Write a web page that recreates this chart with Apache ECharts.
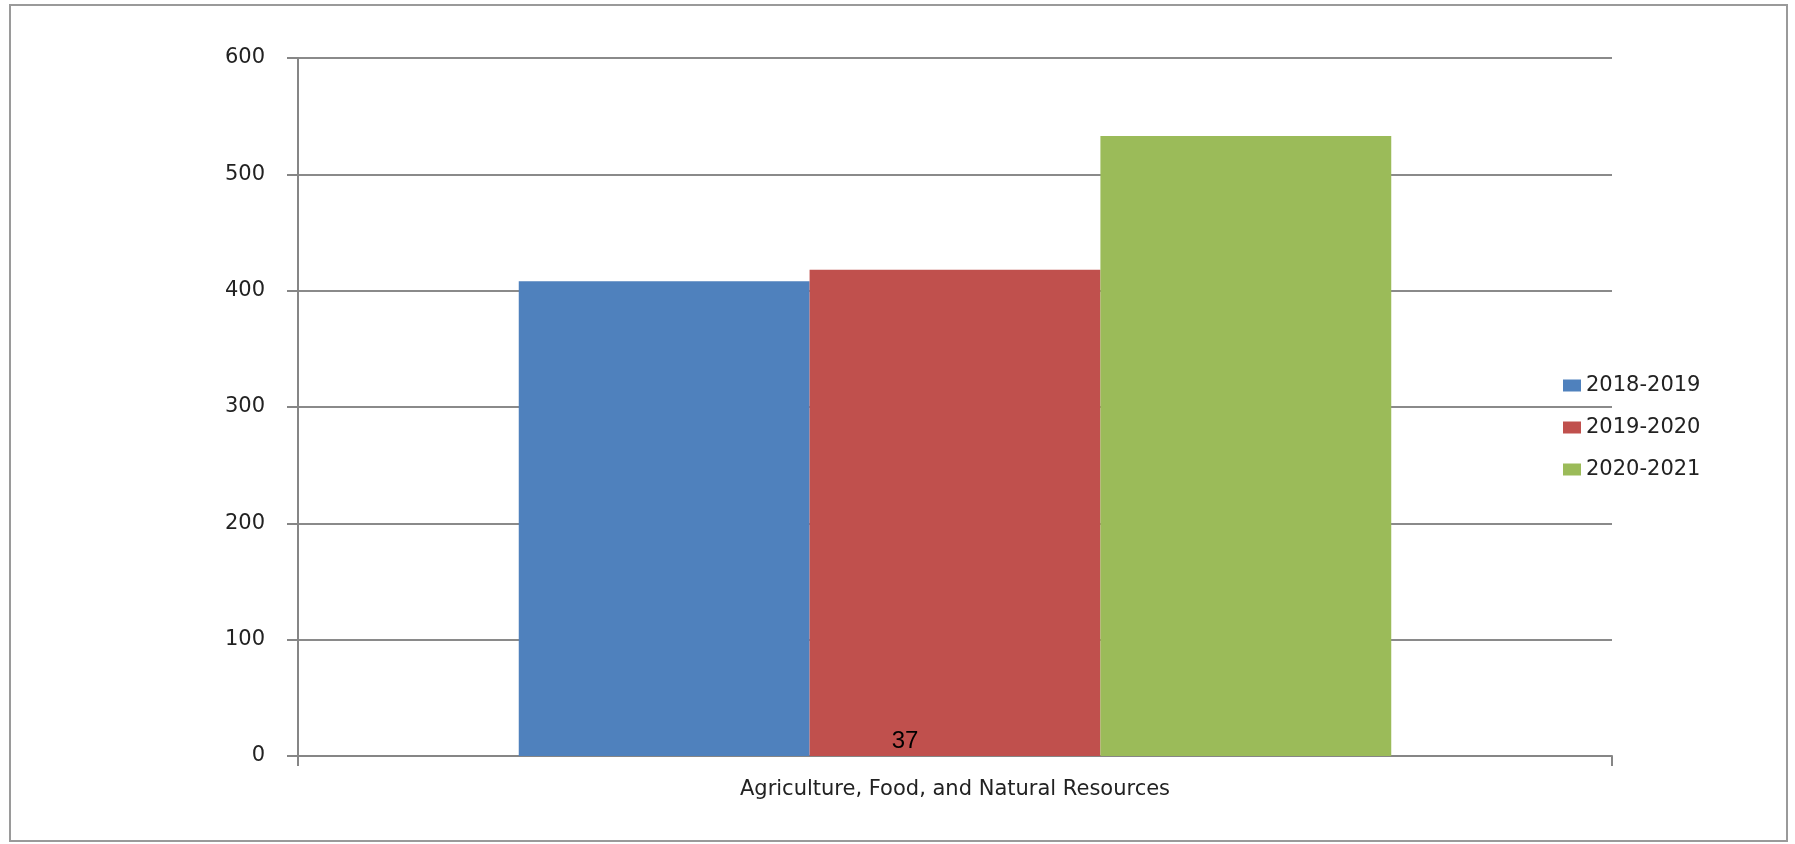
<!DOCTYPE html>
<html>
<head>
<meta charset="utf-8">
<script src="https://cdn.jsdelivr.net/npm/echarts@6/dist/echarts.min.js"></script>
<style>
html,body{margin:0;padding:0;background:#fff;}
#chart{width:1795px;height:844px;}
</style>
</head>
<body>
<div id="chart"></div>
<script>
const categories = ['Agriculture, Food, and Natural Resources'];
const seriesNames = ['2018-2019', '2019-2020', '2020-2021'];
const values2018 = [408];
const values2019 = [418];
const values2020 = [533];
const yTicks = [0, 100, 200, 300, 400, 500, 600];
const pageNumber = '37';

const colors = ['#4F81BD', '#C0504D', '#9BBB59'];
const seriesValues = [values2018, values2019, values2020];

const chart = echarts.init(document.getElementById('chart'));
const labelFont = { fontFamily: 'DejaVu Sans', fontSize: 21, color: '#222' };

chart.setOption({
  animation: false,
  backgroundColor: '#fff',
  grid: { left: 298, right: 183, top: 58, bottom: 88 },
  legend: {
    orient: 'vertical',
    left: 1558,
    top: 370,
    itemWidth: 18,
    itemHeight: 12,
    itemGap: 21,
    icon: 'rect',
    textStyle: labelFont,
    data: seriesNames
  },
  xAxis: {
    type: 'category',
    data: categories,
    axisLine: { lineStyle: { color: '#868686', width: 2 } },
    axisTick: { show: true, length: 10, lineStyle: { color: '#868686', width: 2 } },
    axisLabel: Object.assign({ margin: 23 }, labelFont)
  },
  yAxis: {
    type: 'value',
    min: yTicks[0],
    max: yTicks[yTicks.length - 1],
    interval: yTicks[1] - yTicks[0],
    axisLine: { show: true, lineStyle: { color: '#868686', width: 2 } },
    axisTick: { show: true, length: 11, lineStyle: { color: '#868686', width: 2 } },
    splitLine: { lineStyle: { color: '#8a8a8a', width: 2 } },
    axisLabel: Object.assign({ margin: 33 }, labelFont)
  },
  series: seriesNames.map((name, i) => ({
    name: name,
    type: 'bar',
    data: seriesValues[i],
    barGap: '0%',
    barCategoryGap: '33.6%',
    itemStyle: { color: colors[i] }
  })),
  graphic: [
    {
      type: 'rect',
      shape: { x: 10, y: 5, width: 1777, height: 836 },
      style: { fill: 'none', stroke: '#9a9a9a', lineWidth: 2 },
      silent: true
    },
    {
      type: 'text',
      x: 905,
      y: 741,
      z: 100,
      style: {
        text: pageNumber,
        font: '24px "Liberation Sans", Arial, sans-serif',
        fill: '#000',
        align: 'center',
        verticalAlign: 'middle'
      }
    }
  ]
});
</script>
</body>
</html>
